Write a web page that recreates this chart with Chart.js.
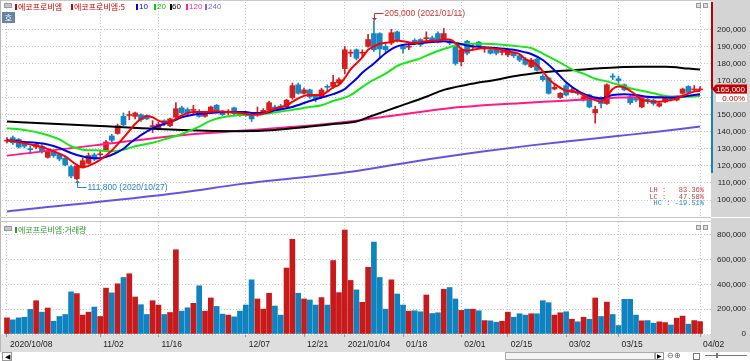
<!DOCTYPE html>
<html>
<head>
<meta charset="utf-8">
<script src="https://cdn.jsdelivr.net/npm/chart.js@4.4.0/dist/chart.umd.min.js"></script>
<style>
  body { margin: 0; width: 750px; height: 361px; overflow: hidden; background: #fff; position: relative; font-family: 'Liberation Sans', Arial, sans-serif; }
  canvas { position: absolute; left: 0; }
  #pc { top: 0; }
  #vc { top: 218px; }
  .t { position: absolute; white-space: nowrap; line-height: 1; }
  .kr { font-family: 'Noto Sans CJK KR', sans-serif; font-size: 8px; }
  .num { font-family: 'Liberation Sans', sans-serif; font-size: 8px; }
  .mk { position: absolute; width: 2px; height: 6px; }
  .box { position: absolute; box-sizing: border-box; }
</style>
</head>
<body>
<canvas id="pc" width="750" height="217"></canvas>
<canvas id="vc" width="750" height="134"></canvas>

<!-- panel frames -->
<div class="box" style="left:0;top:0;width:711px;height:1px;background:#c8c8c8"></div>
<div class="box" style="left:0;top:0;width:1px;height:352px;background:#b8b8b8"></div>
<div class="box" style="left:0;top:217px;width:711px;height:1px;background:#c8c8c8"></div>
<div class="box" style="left:0;top:221px;width:711px;height:1px;background:#c8c8c8"></div>

<!-- top legend -->
<div class="box" style="left:4px;top:3px;width:8px;height:5px;background:#c4c4c4;border:1px solid #999"></div>
<div class="box kr" style="left:2px;top:12px;width:13px;height:11px;background:#6683a8;color:#fff;text-align:center;line-height:11px;font-size:8px">호</div>
<div class="mk" style="left:15px;top:4px;background:#d00000"></div>
<div class="t kr" style="left:18px;top:3px;color:#d00000">에코프로비엠</div>
<div class="mk" style="left:71px;top:4px;background:#d00000"></div>
<div class="t kr" style="left:74px;top:3px;color:#d00000">에코프로비엠:5</div>
<div class="mk" style="left:136px;top:4px;background:#0000e0"></div>
<div class="t num" style="left:139px;top:3px;color:#0000e0">10</div>
<div class="mk" style="left:154px;top:4px;background:#00d000"></div>
<div class="t num" style="left:157px;top:3px;color:#00c000">20</div>
<div class="mk" style="left:170px;top:4px;background:#000"></div>
<div class="t num" style="left:172px;top:3px;color:#000">60</div>
<div class="mk" style="left:186px;top:4px;background:#ff2a8a"></div>
<div class="t num" style="left:189px;top:3px;color:#ff2a8a">120</div>
<div class="mk" style="left:205px;top:4px;background:#7a66e8"></div>
<div class="t num" style="left:208px;top:3px;color:#7a66e8">240</div>
<div class="box" style="left:696px;top:3px;width:5px;height:5px;background:#ddd;border:1px solid #999"></div>
<div class="box" style="left:703px;top:3px;width:5px;height:5px;background:#ddd;border:1px solid #999"></div>

<!-- volume legend -->
<div class="box" style="left:4px;top:226px;width:8px;height:5px;background:#c4c4c4;border:1px solid #999"></div>
<div class="mk" style="left:15px;top:227px;background:#2e9a2e"></div>
<div class="t kr" style="left:18px;top:226px;color:#2e9a2e">에코프로비엠:거래량</div>
<div class="box" style="left:696px;top:225px;width:5px;height:5px;background:#ddd;border:1px solid #999"></div>
<div class="box" style="left:703px;top:225px;width:5px;height:5px;background:#ddd;border:1px solid #999"></div>

<!-- high/low ratios -->
<div id="stats" class="t" style="right:46px;top:187px;font:7px 'Liberation Mono',monospace;line-height:6.5px;text-align:right;white-space:pre"></div>

<!-- bottom scroll row -->
<div class="box" style="left:2px;top:352px;width:10px;height:9px;border:1px solid #999;font-size:7px;line-height:7px;text-align:center">&#9664;</div>
<div class="box" style="left:505px;top:352px;width:150px;height:8px;border:1px solid #aaa;background:#f4f4f4"></div>
<div class="box" style="left:655px;top:352px;width:9px;height:8px;border:1px solid #999;font-size:6px;line-height:6px;text-align:center">&#9654;</div>
<div class="t" style="left:667px;top:352px;font-size:8px;color:#555">&#8854;&#8853;</div>
<div class="box" style="left:693px;top:353px;width:7px;height:7px;border:1px solid #777"></div>
<div class="box" style="left:705px;top:355px;width:42px;height:1px;background:#777"></div>
<div class="box" style="left:716px;top:353px;width:2px;height:5px;background:#777"></div>

<script>
// ---- data ----
const dates = [
  '2020/10/08','2020/10/12','2020/10/13','2020/10/14','2020/10/15','2020/10/16','2020/10/19','2020/10/20','2020/10/21','2020/10/22',
  '2020/10/23','2020/10/26','2020/10/27','2020/10/28','2020/10/29','2020/10/30','2020/11/02','2020/11/03','2020/11/04','2020/11/05',
  '2020/11/06','2020/11/09','2020/11/10','2020/11/11','2020/11/12','2020/11/13','2020/11/16','2020/11/17','2020/11/18','2020/11/19',
  '2020/11/20','2020/11/23','2020/11/24','2020/11/25','2020/11/26','2020/11/27','2020/11/30','2020/12/01','2020/12/02','2020/12/03',
  '2020/12/04','2020/12/07','2020/12/08','2020/12/09','2020/12/10','2020/12/11','2020/12/14','2020/12/15','2020/12/16','2020/12/17',
  '2020/12/18','2020/12/21','2020/12/22','2020/12/23','2020/12/24','2020/12/28','2020/12/29','2020/12/30','2021/01/04','2021/01/05',
  '2021/01/06','2021/01/07','2021/01/08','2021/01/11','2021/01/12','2021/01/13','2021/01/14','2021/01/15','2021/01/18','2021/01/19',
  '2021/01/20','2021/01/21','2021/01/22','2021/01/25','2021/01/26','2021/01/27','2021/01/28','2021/01/29','2021/02/01','2021/02/02',
  '2021/02/03','2021/02/04','2021/02/05','2021/02/08','2021/02/09','2021/02/10','2021/02/15','2021/02/16','2021/02/17','2021/02/18',
  '2021/02/19','2021/02/22','2021/02/23','2021/02/24','2021/02/25','2021/02/26','2021/03/02','2021/03/03','2021/03/04','2021/03/05',
  '2021/03/08','2021/03/09','2021/03/10','2021/03/11','2021/03/12','2021/03/15','2021/03/16','2021/03/17','2021/03/18','2021/03/19',
  '2021/03/22','2021/03/23','2021/03/24','2021/03/25','2021/03/26','2021/03/29','2021/03/30','2021/03/31','2021/04/01','2021/04/02'
];

const opens = [
  134500,136500,135500,133500,130000,131000,131500,125000,128500,127000,
  124500,119500,112500,119500,121500,126500,126500,129000,137500,139000,
  149000,149500,149000,150000,149500,143000,142000,146500,143500,148500,
  154000,153000,152500,152000,149000,152000,155500,152000,151000,154000,
  151000,150500,149500,150500,151000,152500,154500,155000,154500,160000,
  167500,162500,164500,161500,160000,166500,166500,168500,177000,186000,
  188000,186000,190000,197500,197500,190000,192000,198500,190000,189500,
  193500,194000,194500,195000,197500,194500,192500,190000,181000,193000,
  189500,192500,188500,188000,188000,186500,185000,186000,184500,182500,
  178000,182500,172500,171500,165000,160000,167000,164000,163500,158500,
  161500,151000,159500,156500,172500,171000,167500,160500,159500,154500,
  159000,158500,155000,157500,159500,158500,162500,166500,164500,164500
];
const highs = [
  136500,137500,136000,134000,131500,133500,132500,129500,129000,127500,
  125500,120500,121000,124500,127500,127500,129000,135000,138500,144500,
  151000,152000,151500,150500,150000,146500,145500,147000,148000,157000,
  155000,154000,155500,153000,152000,155000,156000,152500,153000,154500,
  152000,151000,150000,154500,153500,158000,155500,156000,159000,168500,
  168500,165500,165000,162000,165500,167500,173000,171500,190000,188000,
  188500,188000,197000,205000,198000,191500,200000,199000,191000,192000,
  194500,194500,198500,196000,198500,200500,193500,191000,189000,193500,
  191000,193000,190000,188500,188500,188000,188500,186500,185000,183500,
  183000,183000,173500,172000,168000,163000,168000,165500,164500,161500,
  162000,155000,160500,168000,174000,172500,168000,161000,160500,160000,
  160000,159000,157500,160000,160500,161000,165500,167000,167000,166500
];
const lows = [
  133500,132500,130500,130500,127000,130000,127500,124500,125000,123000,
  120000,113000,111800,119000,121000,123000,125500,128500,134000,138500,
  143500,147000,147500,146000,147000,139500,141000,143500,143000,148000,
  150500,150000,150000,148500,148500,151500,151000,149500,150000,150000,
  149000,149000,146000,149000,150500,152000,152500,153000,154000,159000,
  162000,162000,159500,157500,159500,163500,165500,168000,174000,184000,
  182000,184000,189500,187000,183000,186500,191000,192500,186000,188000,
  191000,190000,193500,193000,192000,194000,191000,179000,178500,185000,
  188500,189000,186500,185500,185000,185000,184000,183500,181000,179000,
  177500,175500,169500,162000,164500,159500,161000,163000,161500,158000,
  154000,145000,154000,156000,170500,168500,164000,156000,157500,154000,
  156500,155500,154500,157000,158000,158000,162000,162500,163500,164000
];
const closes = [
  135000,133500,131000,131500,129500,132500,128500,128500,126000,124000,
  120500,114000,120000,123000,126000,124000,127000,134000,135000,143500,
  144000,150000,151000,147000,147500,143500,144500,144500,147500,153500,
  151000,151000,153000,149000,151000,154500,152000,150000,152000,150500,
  150000,149500,147500,151000,152500,157000,153000,153500,158500,167000,
  162500,164500,160500,159500,164500,166000,169000,170500,188000,186500,
  183000,186500,194000,188000,188500,188000,198000,193500,188500,190000,
  192000,191000,195000,193500,192500,197500,192000,180000,188000,186000,
  190000,190000,189000,186000,186000,187000,188000,184500,182000,179500,
  182000,176000,170500,162500,166000,162500,161500,164500,162500,160500,
  154500,153000,156500,167500,172000,170000,164500,157000,158500,159500,
  158500,156500,156500,159500,159000,160000,165000,163000,165000,165000
];
const volumes = [
  130000,114000,130000,135000,198000,268000,176000,209000,103000,141000,
  157000,339000,325000,152000,176000,217000,141000,369000,331000,404000,
  455000,485000,298000,236000,157000,268000,233000,157000,173000,678000,
  184000,211000,247000,388000,184000,290000,222000,160000,152000,138000,
  184000,233000,436000,282000,200000,328000,225000,152000,531000,762000,
  328000,282000,274000,233000,293000,233000,591000,333000,837000,431000,
  355000,255000,537000,740000,455000,200000,436000,322000,233000,184000,
  187000,179000,314000,165000,171000,360000,374000,282000,190000,200000,
  200000,187000,108000,106000,95000,103000,176000,135000,163000,152000,
  163000,163000,268000,252000,152000,171000,179000,119000,98000,135000,
  119000,290000,141000,257000,157000,68000,279000,279000,152000,106000,
  108000,87000,98000,92000,73000,127000,144000,79000,108000,100000
];

// moving averages: [day index, value]
const ma5 = [
  [0,135000],[2,134000],[4,132500],[6,131000],[8,128500],[10,125500],[12,120500],[13,119000],[14,120000],[16,123500],
  [18,129000],[20,136500],[21,140500],[22,144500],[23,147500],[24,149000],[25,148500],[26,146500],[27,145500],[28,145500],
  [29,147500],[30,149500],[32,151500],[34,151500],[36,152000],[38,151500],[40,151000],[42,150000],[44,150500],[45,152000],
  [46,153500],[48,155500],[49,157500],[50,159500],[51,161000],[52,161500],[54,161500],[55,163500],[56,166000],[57,167500],
  [58,171500],[59,176500],[60,180000],[61,183500],[62,188000],[63,190000],[64,191500],[66,192500],[67,193500],[68,193000],
  [70,192000],[72,193000],[74,193500],[75,194000],[76,194000],[77,192000],[78,188500],[79,187500],[80,188000],[82,189000],
  [84,188500],[86,187000],[88,185500],[89,182500],[90,181000],[91,179000],[92,175500],[93,171000],[94,168000],[96,164000],
  [98,163000],[100,159500],[101,158500],[102,157500],[103,160500],[104,165000],[105,166500],[106,166000],[107,164000],[108,161500],
  [109,158500],[110,158000],[111,157500],[113,158000],[115,159500],[116,161000],[118,163500],[119,164000]
];
const ma10 = [
  [0,135000],[3,134000],[5,133500],[7,132500],[9,130500],[11,127500],[13,125500],[15,124500],[16,124500],[18,126500],
  [19,128000],[20,130000],[21,133000],[22,135500],[23,138000],[25,142000],[27,144500],[29,147000],[30,148500],[32,150000],
  [35,151000],[38,151500],[41,151500],[42,151000],[44,151000],[46,152500],[49,154500],[52,158000],[54,160000],[56,162000],
  [58,165000],[59,168000],[60,171000],[61,174500],[63,180000],[65,186000],[67,190000],[70,191500],[73,192500],[75,193000],
  [77,192000],[80,190000],[84,189000],[87,188000],[89,186500],[90,185500],[92,182000],[94,176000],[96,169000],[98,164000],
  [100,161000],[101,160000],[102,159500],[104,161500],[106,162000],[108,161500],[110,160500],[112,160000],[114,160000],[116,160500],
  [118,161500],[119,162000]
];
const ma20 = [
  [0,142000],[3,141000],[6,139000],[9,135500],[11,131500],[13,129500],[16,129000],[18,128500],[20,129500],[22,131500],
  [25,133500],[27,135500],[29,137500],[31,140000],[33,143000],[35,146500],[38,149000],[41,150000],[43,150000],[46,151300],
  [49,152800],[52,154500],[54,155500],[56,158000],[58,160000],[59,161500],[62,168500],[65,174000],[67,178500],[71,183000],
  [73,186000],[76,189500],[79,191500],[82,191500],[85,191000],[88,190000],[90,189000],[91,187500],[93,184000],[95,180500],
  [97,176500],[99,174000],[101,171000],[103,169500],[105,167500],[107,165500],[109,164000],[111,162500],[113,161000],[115,160500],
  [117,160500],[119,161000]
];
const ma60 = [
  [0,146000],[15,143500],[30,141000],[40,140300],[46,141000],[52,143000],[56,144500],[60,146000],[62,148500],[67,154500],
  [72,160500],[75,164500],[79,167500],[84,170500],[87,172500],[90,174000],[93,175200],[97,176000],[101,177000],[105,177800],
  [109,178000],[113,178000],[117,177000],[119,176400]
];
const ma120 = [
  [0,126000],[15,132000],[30,138000],[40,140500],[50,143000],[60,146500],[67,149800],[76,153800],[88,156700],[95,158000],
  [100,159000],[105,160000],[110,160300],[115,160700],[119,161500]
];
const ma240 = [
  [0,93300],[30,104400],[40,109300],[60,117000],[70,122600],[82,128500],[90,132000],[96,134300],[104,137200],[112,140100],
  [119,143000]
];

const priceTicks = [100000,110000,120000,130000,140000,150000,160000,170000,180000,190000,200000];
const volTicks = [0,200000,400000,600000,800000];
const tickIdx = [0,16,26,41,51,58,68,78,86,96,105,119];
const tickLabels = ['2020/10/08','11/02','11/16','12/07','12/21','2021/01/04','01/18','02/01','02/15','03/02','03/15','04/02'];

// ---- helpers ----
const RED = '#d21f1f', BLUE = '#1686c6';
const fmt = v => v.toLocaleString('en-US');
const up = closes.map((c, i) => c >= opens[i]);
const pts = a => a.map(p => ({ x: p[0], y: p[1] }));
const FONT = 'Liberation Sans';
Chart.defaults.font.family = FONT;

const xMin = -0.858, xMax = 120.88;
const fixTicks = list => s => { s.ticks = list.map(v => ({ value: v })); };
// keep the plot area from shrinking for edge labels
const noPad = s => { s.paddingTop = 0; s.paddingBottom = 0; s.paddingLeft = 0; s.paddingRight = 0; };

function maLine(data, color) {
  return { type: 'line', data: pts(data), borderColor: color, borderWidth: 2, pointRadius: 0,
           cubicInterpolationMode: 'monotone', fill: false, order: 0 };
}

const priceDeco = {
  id: 'priceDeco',
  beforeDraw(c) {
    const { ctx, chartArea: a, width, height } = c;
    ctx.save();
    ctx.fillStyle = '#d4d4d4';
    ctx.fillRect(a.right, 0, width - a.right, height);
    ctx.restore();
  },
  afterDraw(c) {
    const { ctx, chartArea: a } = c;
    const xs = c.scales.x, ys = c.scales.y;
    const last = closes[closes.length - 1], prev = closes[closes.length - 2];
    const py = Math.round(ys.getPixelForValue(last));
    ctx.save();
    // axis range line
    ctx.fillStyle = '#c00000';
    ctx.fillRect(a.right, a.top, 2, py - a.top);
    ctx.fillStyle = '#1a80c0';
    ctx.fillRect(a.right, py, 2, ys.getPixelForValue(115800) - py);
    // last price tag
    ctx.fillStyle = '#c40000';
    ctx.beginPath();
    ctx.moveTo(a.right + 1, py);
    ctx.lineTo(a.right + 5, py - 4.5);
    ctx.lineTo(747, py - 4.5);
    ctx.lineTo(747, py + 4.5);
    ctx.lineTo(a.right + 5, py + 4.5);
    ctx.closePath();
    ctx.fill();
    ctx.font = '8px ' + FONT;
    ctx.textAlign = 'right';
    ctx.textBaseline = 'middle';
    ctx.fillStyle = '#fff';
    ctx.fillText(fmt(last), 745, py + 0.5);
    ctx.fillRect(716, py + 5, 31, 8);
    ctx.fillStyle = '#d00000';
    ctx.fillText(((last / prev - 1) * 100).toFixed(2) + '%', 745, py + 9.5);

    // high / low marks
    const hiI = highs.indexOf(Math.max(...highs));
    const loI = lows.indexOf(Math.min(...lows));
    ctx.lineWidth = 1;
    ctx.font = '8.5px ' + FONT;
    ctx.textAlign = 'left';
    let hx = Math.round(xs.getPixelForValue(hiI)) + 0.5, hy = Math.round(ys.getPixelForValue(highs[hiI]));
    ctx.fillStyle = ctx.strokeStyle = '#c83232';
    ctx.beginPath(); ctx.moveTo(hx, hy); ctx.lineTo(hx - 2.5, hy - 3); ctx.lineTo(hx + 2.5, hy - 3); ctx.closePath(); ctx.fill();
    ctx.beginPath(); ctx.moveTo(hx, hy - 3); ctx.lineTo(hx, hy - 7.5); ctx.lineTo(hx + 9, hy - 7.5); ctx.stroke();
    ctx.fillText(fmt(highs[hiI]) + ' (' + dates[hiI] + ')', hx + 10, hy - 7);
    let lx = Math.round(xs.getPixelForValue(loI)) + 0.5, ly = Math.round(ys.getPixelForValue(lows[loI]));
    ctx.fillStyle = ctx.strokeStyle = '#2a86c0';
    ctx.beginPath(); ctx.moveTo(lx, ly); ctx.lineTo(lx - 2.5, ly + 3); ctx.lineTo(lx + 2.5, ly + 3); ctx.closePath(); ctx.fill();
    ctx.beginPath(); ctx.moveTo(lx, ly + 3); ctx.lineTo(lx, ly + 7.5); ctx.lineTo(lx + 9, ly + 7.5); ctx.stroke();
    ctx.fillText(fmt(lows[loI]) + ' (' + dates[loI] + ')', lx + 10, ly + 8);
    ctx.restore();
  }
};

const volDeco = {
  id: 'volDeco',
  beforeDraw(c) {
    const { ctx, chartArea: a, width, height } = c;
    ctx.save();
    ctx.fillStyle = '#d4d4d4';
    ctx.fillRect(a.right, 0, width - a.right, height);
    ctx.fillStyle = '#dedede';
    ctx.fillRect(0, a.bottom + 1, a.right, height - a.bottom - 1);
    ctx.restore();
  }
};

const yTickFont = { family: FONT, size: 8 };

new Chart(document.getElementById('pc'), {
  type: 'bar',
  data: {
    datasets: [
      maLine(ma5, '#ff0000'),
      maLine(ma10, '#0000e6'),
      maLine(ma20, '#18e818'),
      maLine(ma60, '#000000'),
      maLine(ma120, '#ff1a8a'),
      maLine(ma240, '#6a52e0'),
      { type: 'bar', order: 1, grouped: false, barThickness: 5, minBarLength: 1,
        data: dates.map((d, i) => ({ x: i, y: [Math.min(opens[i], closes[i]), Math.max(opens[i], closes[i])] })),
        backgroundColor: up.map(u => u ? RED : BLUE) },
      { type: 'bar', order: 2, grouped: false, barThickness: 1,
        data: dates.map((d, i) => ({ x: i, y: [lows[i], highs[i]] })),
        backgroundColor: up.map(u => u ? RED : BLUE) }
    ]
  },
  options: {
    responsive: false, animation: false, devicePixelRatio: 1, events: [],
    layout: { padding: { left: 2, top: 2, right: 4, bottom: 1 } },
    plugins: { legend: { display: false }, tooltip: { enabled: false } },
    scales: {
      x: {
        type: 'linear', min: xMin, max: xMax, bounds: 'data', offset: false,
        afterBuildTicks: fixTicks(tickIdx),
        afterFit: s => { s.height = 0; noPad(s); },
        ticks: { display: false },
        grid: { color: '#c6c6c6', drawTicks: false, offset: false },
        border: { display: false, dash: [1, 2] }
      },
      y: {
        position: 'right', min: 90627, max: 215993, bounds: 'data',
        afterBuildTicks: fixTicks(priceTicks),
        afterFit: s => { s.width = 35; noPad(s); },
        ticks: { crossAlign: 'far', padding: 0, color: '#222', font: yTickFont, callback: v => fmt(v) },
        grid: { color: '#c6c6c6', drawTicks: false },
        border: { display: false, dash: [1, 2] }
      }
    }
  },
  plugins: [priceDeco]
});

new Chart(document.getElementById('vc'), {
  type: 'bar',
  data: {
    datasets: [{
      grouped: false, barThickness: 5,
      data: dates.map((d, i) => ({ x: i, y: volumes[i] })),
      backgroundColor: up.map(u => u ? '#c81a1a' : '#0f82c0')
    }]
  },
  options: {
    responsive: false, animation: false, devicePixelRatio: 1, events: [],
    layout: { padding: { left: 2, top: 4, right: 4, bottom: 0 } },
    plugins: { legend: { display: false }, tooltip: { enabled: false } },
    scales: {
      x: {
        type: 'linear', min: xMin, max: xMax, bounds: 'data', offset: false,
        afterBuildTicks: fixTicks(tickIdx),
        afterFit: s => { s.height = 18; noPad(s); },
        ticks: { autoSkip: false, maxRotation: 0, align: 'start', labelOffset: 3, padding: 3,
                 color: '#222', font: { family: FONT, size: 8.5 }, callback: (v, i) => tickLabels[i] },
        grid: { color: '#c6c6c6', tickColor: '#9a9a9a', tickLength: 3, offset: false },
        border: { display: false, dash: [1, 2] }
      },
      y: {
        position: 'right', min: 0, max: 901400, bounds: 'data',
        afterBuildTicks: fixTicks(volTicks),
        afterFit: s => { s.width = 35; noPad(s); },
        ticks: { crossAlign: 'far', padding: 0, color: '#222', font: yTickFont, callback: v => fmt(v) },
        grid: { color: '#c6c6c6', drawTicks: false },
        border: { display: false, dash: [1, 2] }
      }
    }
  },
  plugins: [volDeco]
});

// ratio box
const hi = Math.max(...highs), lo = Math.min(...lows), lastC = closes[closes.length - 1];
const pct = v => (v >= 0 ? ' ' : '') + (v * 100).toFixed(2) + '%';
document.getElementById('stats').innerHTML =
  '<span style="color:#c83c3c">LH :  ' + pct(hi / lo - 1) + '</span>\n' +
  '<span style="color:#c83c3c">LC :  ' + pct(lastC / lo - 1) + '</span>\n' +
  '<span style="color:#2a8ac8">HC : ' + pct(lastC / hi - 1) + '</span>';
</script>
</body>
</html>
